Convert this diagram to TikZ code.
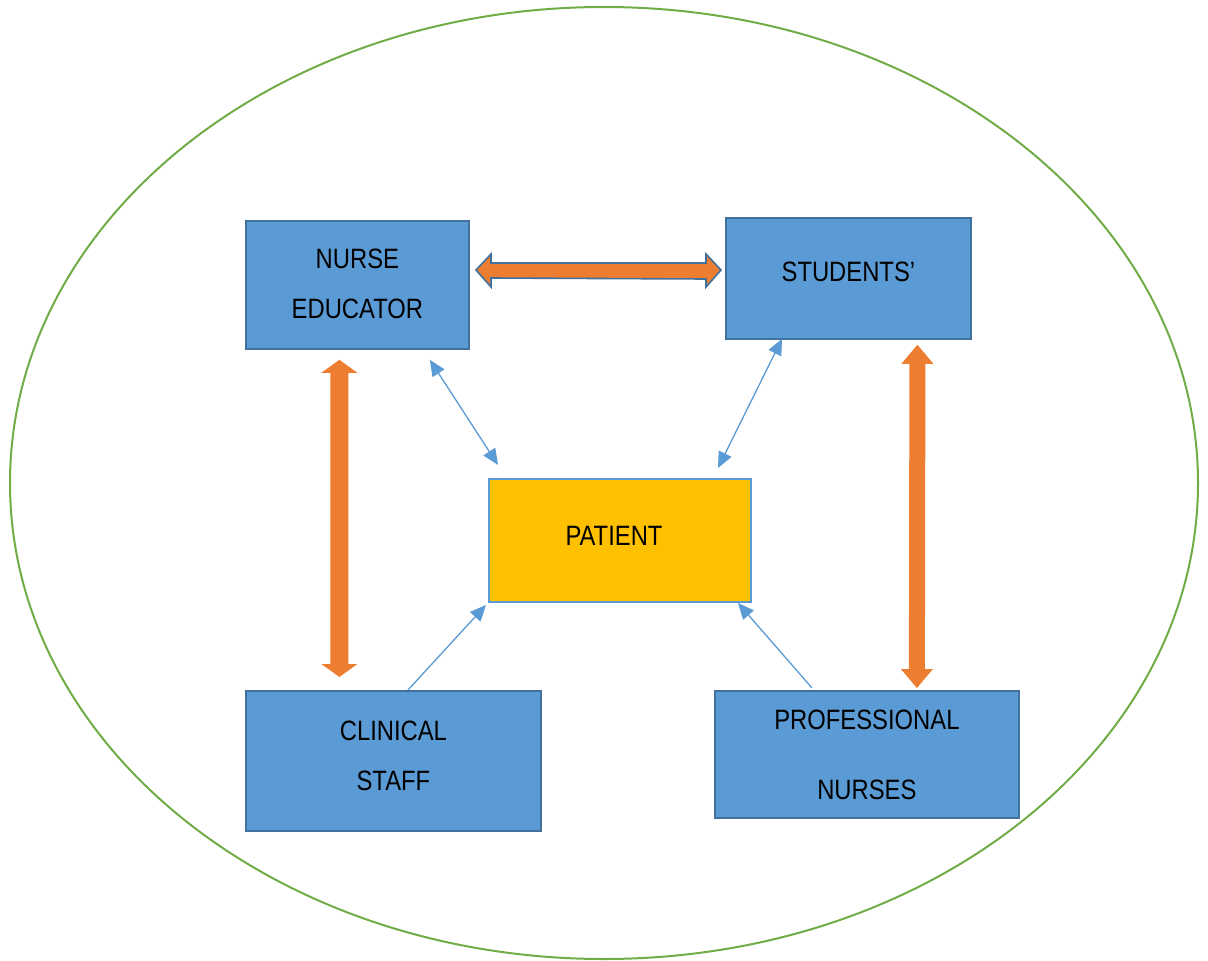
\documentclass[tikz,border=0pt]{standalone}
\usepackage{fontspec}
\setmainfont{Liberation Sans}[FakeStretch=0.85]
\usetikzlibrary{arrows.meta,calc}
\definecolor{boxblue}{HTML}{5B9BD5}
\definecolor{boxedge}{HTML}{41719C}
\definecolor{arrorange}{HTML}{ED7D31}
\definecolor{patyellow}{HTML}{FFC000}
\definecolor{ringgreen}{HTML}{70AD47}
\tikzset{
  rolebox/.style={draw=boxedge, fill=boxblue, line width=1.8pt, anchor=north west, inner sep=0pt, align=center, font=\fontsize{28}{48}\selectfont},
  patientbox/.style={draw=boxblue, fill=patyellow, line width=2pt, anchor=north west, inner sep=0pt, align=center, font=\fontsize{28}{48}\selectfont},
  thinlink/.style={draw=boxblue, line width=1.3pt, {Triangle[length=16pt,width=14pt]}-{Triangle[length=16pt,width=14pt]}},
  thinone/.style={draw=boxblue, line width=1.3pt, -{Triangle[length=16pt,width=14pt]}},
  blockarrow/.style={fill=arrorange, draw=none},
  blockoutlined/.style={fill=arrorange, draw=boxedge, line width=1.6pt, line join=miter},
}
\begin{document}
\begin{tikzpicture}[x=1pt,y=-1pt]
\useasboundingbox (0,0) rectangle (1208,961);
\fill[white] (0,0) rectangle (1208,961);
% ring
\draw[ringgreen, line width=2pt] (604,483) ellipse [x radius=594, y radius=476];
% boxes
\node[rolebox, minimum width=223pt, minimum height=128pt] (ne) at (245,220) {\raisebox{3pt}{\shortstack{NURSE\\[27pt]EDUCATOR}}};
\node[rolebox, minimum width=245pt, minimum height=121pt] (st) at (725,217) {\raisebox{14pt}{STUDENTS’}};
\node[patientbox, minimum width=262pt, minimum height=123pt] (pa) at (488,478) {\raisebox{9pt}{PATIENT}\hspace*{12pt}};
\node[rolebox, minimum width=295pt, minimum height=140pt] (cs) at (245,690) {\raisebox{10.5pt}{\shortstack{CLINICAL\\[28pt]STAFF}}};
\node[rolebox, minimum width=304pt, minimum height=127pt, font=\fontsize{28}{70}\selectfont] (pn) at (714,690) {PROFESSIONAL\\NURSES};
% horizontal outlined double block arrow
\coordinate (hl) at (476,270);
\coordinate (hr) at (721,270);
\draw[blockoutlined] (hl) -- ++(15,-16) -- ++(0,9) -- ($(hr)+(-15,-7)$) -- ++(0,-9) -- (hr) -- ++(-15,17) -- ++(0,-8) -- ($(hl)+(15,8)$) -- ++(0,9) -- cycle;
% left vertical block arrow
\coordinate (vlt) at ($(ne.south)+(-18,10)$);
\coordinate (vlb) at ($(cs.north)+(-54,-13)$);
\fill[blockarrow] (vlt) -- ++(18,13) -- ++(-9,0) -- ($(vlb)+(9,-13)$) -- ++(9,0) -- (vlb) -- ++(-18,-13) -- ++(9,0) -- ($(vlt)+(-9,13)$) -- ++(-9,0) -- cycle;
% right vertical block arrow
\coordinate (vrt) at ($(st.south)+(69,5)$);
\coordinate (vrb) at ($(pn.north)+(50,-2)$);
\fill[blockarrow] (vrt) -- ++(16,19) -- ++(-8,0) -- ($(vrb)+(8,-19)$) -- ++(8,0) -- (vrb) -- ++(-16,-19) -- ++(8,0) -- ($(vrt)+(-8,19)$) -- ++(-8,0) -- cycle;
% thin connectors
\draw[thinlink] ($(ne.south east)+(-40,10)$) -- ($(pa.north west)+(10,-13)$);
\draw[thinlink] ($(st.south west)+(57,-1)$) -- ($(pa.north east)+(-34,-10)$);
\draw[thinone] ($(cs.north west)+(163,0)$) -- ($(pa.south west)+(-2,2)$);
\draw[thinone] ($(pn.north west)+(98,-2)$) -- ($(pa.south east)+(-14,0)$);
\end{tikzpicture}
\end{document}
